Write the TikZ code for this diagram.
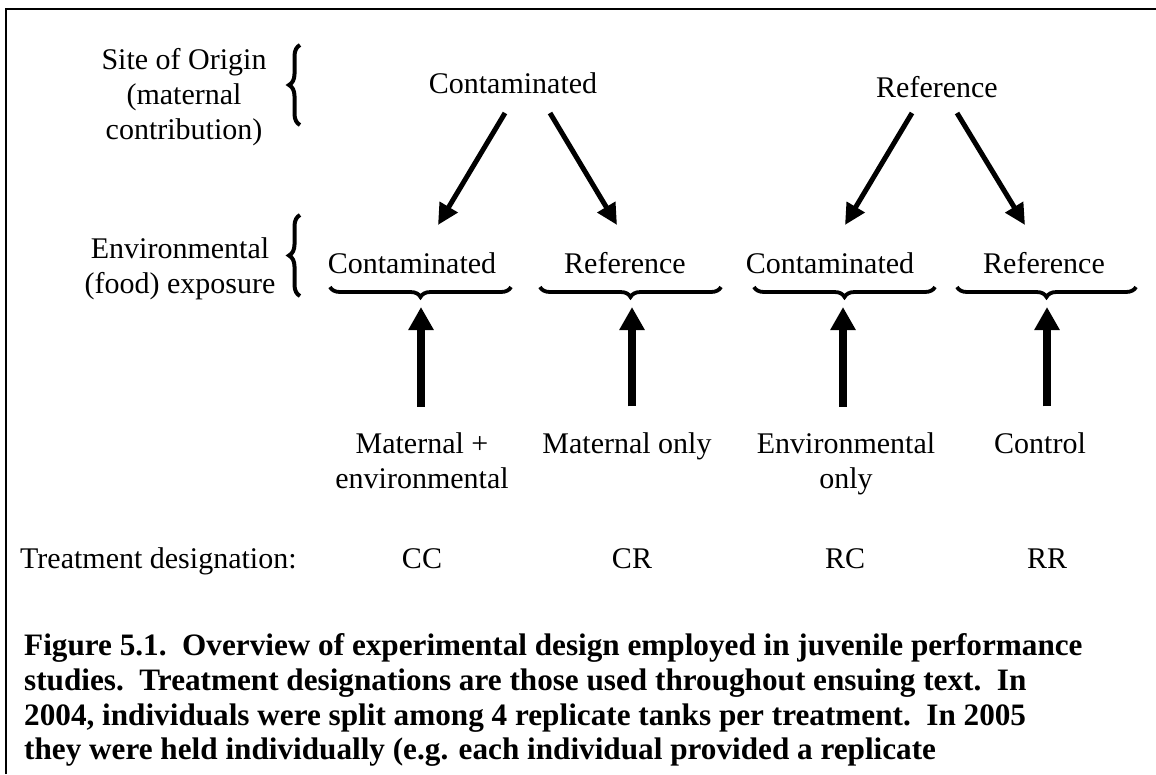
\documentclass[tikz,border=0pt]{standalone}
\usepackage{fontspec}
\setmainfont{Liberation Serif}
\usepackage{tikz}
\usetikzlibrary{arrows.meta,decorations.pathreplacing}

\tikzset{
  txt/.style={inner sep=0pt,font=\fontsize{30}{35}\selectfont},
  diag/.style={line width=5pt,-{Triangle[length=21pt,width=20pt]}},
  uparr/.style={line width=8pt,-{Triangle[length=23pt,width=24pt]}},
  brc/.style={line width=4pt,decorate,decoration={brace,amplitude=11pt}},
  ubrc/.style={line width=3.8pt,decorate,decoration={brace,mirror,amplitude=10pt}}
}

\begin{document}
\begin{tikzpicture}[x=1pt,y=-1pt]
\useasboundingbox (0,0) rectangle (1156,774);
\draw[line width=2.5pt] (6,774) -- (6,9) -- (1156,9);

% row labels
\node[txt,align=center] (orig) at (184,97.4) {Site of Origin\\(maternal\\contribution)};
\node[txt,align=center] (envx) at (180,268.4) {Environmental\\(food) exposure};
\draw[brc] (300,125) -- (300,45);
\draw[brc] (300,296) -- (300,215);

% site of origin
\node[txt,anchor=base] (srcC) at (513,93) {Contaminated};
\node[txt,anchor=base] (srcR) at (937,97) {Reference};

% exposure
\node[txt,anchor=base] (expCC) at (412,273) {Contaminated};
\node[txt,anchor=base] (expCR) at (625,273) {Reference};
\node[txt,anchor=base] (expRC) at (830,273) {Contaminated};
\node[txt,anchor=base] (expRR) at (1044,273) {Reference};
\draw[ubrc] (330,287) -- (511,287);
\draw[ubrc] (540,287) -- (721,287);
\draw[ubrc] (754,287) -- (935,287);
\draw[ubrc] (957,287) -- (1136,287);

\coordinate (srcC-l) at (505,113); \coordinate (inCC) at (438,225);
\coordinate (srcC-r) at (550,113); \coordinate (inCR) at (617,225);
\coordinate (srcR-l) at (912,113); \coordinate (inRC) at (845,225);
\coordinate (srcR-r) at (957,113); \coordinate (inRR) at (1025,225);
\draw[diag] (srcC-l) -- (inCC);
\draw[diag] (srcC-r) -- (inCR);
\draw[diag] (srcR-l) -- (inRC);
\draw[diag] (srcR-r) -- (inRR);

% treatments
\node[txt,align=center] (lblCC) at (422,460.3) {Maternal +\\environmental};
\node[txt,anchor=base] (lblCR) at (627,453) {Maternal only};
\node[txt,align=center] (lblRC) at (846,463.5) {Environmental\\only};
\node[txt,anchor=base] (lblRR) at (1040,453) {Control};

\coordinate (tipCC) at (421,307); \coordinate (tipCR) at (632,307);
\coordinate (tipRC) at (843,307); \coordinate (tipRR) at (1047,307);
\draw[uparr,shorten <=25.5pt] (lblCC.north -| tipCC) -- (tipCC);
\draw[uparr,shorten <=25.5pt] (lblCR.north -| tipCR) -- (tipCR);
\draw[uparr,shorten <=25.5pt] (lblRC.north -| tipRC) -- (tipRC);
\draw[uparr,shorten <=25.5pt] (lblRR.north -| tipRR) -- (tipRR);

% designations
\node[txt,anchor=base west] (trt) at (20,568) {Treatment designation:};
\node[txt,anchor=base] (desCC) at (422,568) {CC};
\node[txt,anchor=base] (desCR) at (632,568) {CR};
\node[txt,anchor=base] (desRC) at (845,568) {RC};
\node[txt,anchor=base] (desRR) at (1047,568) {RR};

% caption
\node[txt,anchor=north west,align=left,font=\fontsize{31.2}{34.7}\selectfont\bfseries] (cap) at (24,633.5)
  {Figure 5.1.\ \ Overview of experimental design employed in juvenile performance\\
   studies.\ \ Treatment designations are those used throughout ensuing text.\ \ In\\
   2004, individuals were split among 4 replicate tanks per treatment.\ \ In 2005\\
   they were held individually (e.g. each individual provided a replicate};
\end{tikzpicture}
\end{document}
